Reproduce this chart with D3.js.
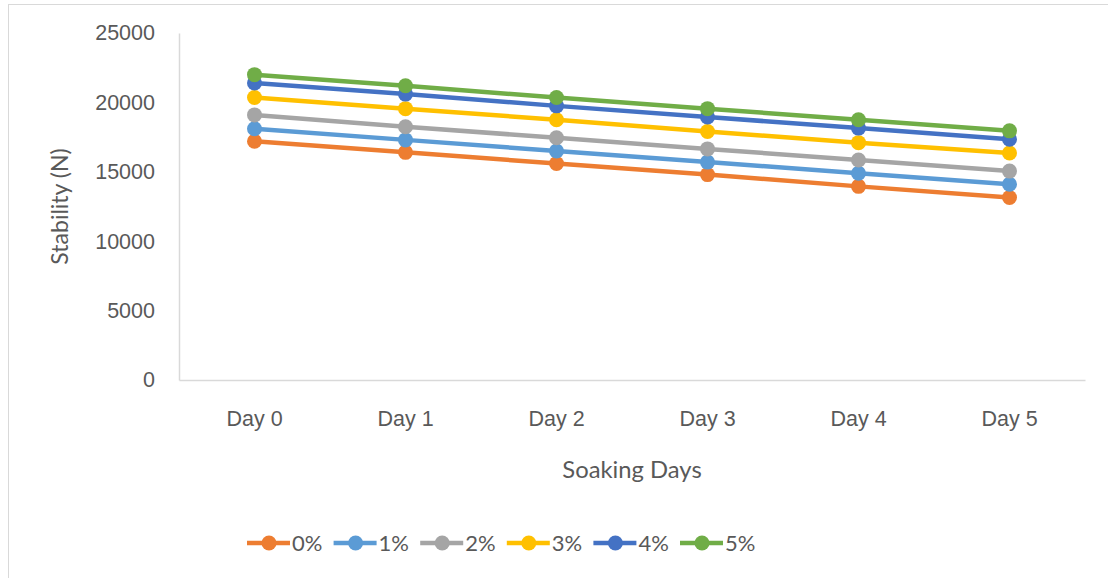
<!DOCTYPE html>
<html>
<head>
<meta charset="utf-8">
<script src="https://cdn.jsdelivr.net/npm/d3@7"></script>
<style>
  html, body { margin: 0; padding: 0; background: #fff; }
  svg { display: block; font-family: Lato, "Open Sans", sans-serif; }
</style>
</head>
<body>
<svg id="chart" width="1108" height="578"></svg>
<script>
// Soaking days on the x axis
const days = ["Day 0", "Day 1", "Day 2", "Day 3", "Day 4", "Day 5"];

// Stability (N) for each additive percentage
const pct0 = [17200, 16400, 15600, 14800, 13950, 13150];
const pct1 = [18100, 17300, 16500, 15700, 14900, 14100];
const pct2 = [19100, 18250, 17450, 16650, 15850, 15050];
const pct3 = [20350, 19550, 18750, 17900, 17100, 16350];
const pct4 = [21400, 20600, 19750, 18950, 18150, 17350];
const pct5 = [22000, 21200, 20350, 19550, 18750, 17950];

const seriesNames = ["0%", "1%", "2%", "3%", "4%", "5%"];
const seriesColors = ["#ED7D31", "#5B9BD5", "#A5A5A5", "#FFC000", "#4472C4", "#70AD47"];
const yTicks = [0, 5000, 10000, 15000, 20000, 25000];

const series = [pct0, pct1, pct2, pct3, pct4, pct5].map((vals, i) => ({
  name: seriesNames[i],
  color: seriesColors[i],
  values: vals.map((v, j) => ({ day: days[j], value: v }))
}));

const svg = d3.select("#chart");
const textColor = "#595959";
const axisColor = "#D9D9D9";

// chart frame
svg.append("rect")
  .attr("x", 8.5).attr("y", 4.5)
  .attr("width", 1120).attr("height", 600)
  .attr("fill", "#fff").attr("stroke", "#D9D9D9").attr("stroke-width", 1);

const plot = { left: 179, right: 1085, top: 33, bottom: 380 };

const x = d3.scaleBand().domain(days).range([plot.left, plot.right]);
const y = d3.scaleLinear().domain([0, 25000]).range([plot.bottom, plot.top]);

// y axis
const yAxis = svg.append("g")
  .attr("transform", `translate(${plot.left},0)`)
  .call(d3.axisLeft(y).tickValues(yTicks).tickSize(0).tickPadding(24).tickFormat(d3.format("d")));
yAxis.select(".domain").attr("stroke", axisColor).attr("stroke-width", 1.5);
yAxis.selectAll("text").attr("fill", textColor).attr("font-size", 21.5);

// x axis
const xAxis = svg.append("g")
  .attr("transform", `translate(0,${plot.bottom})`)
  .call(d3.axisBottom(x).tickSize(0).tickPadding(31));
xAxis.select(".domain").attr("stroke", axisColor).attr("stroke-width", 1.5);
xAxis.selectAll("text").attr("fill", textColor).attr("font-size", 21.5);

// axis titles
svg.append("text")
  .attr("x", (plot.left + plot.right) / 2).attr("y", 478)
  .attr("text-anchor", "middle").attr("fill", textColor).attr("font-size", 23.8)
  .text("Soaking Days");

svg.append("text")
  .attr("transform", `translate(68,${(plot.top + plot.bottom) / 2}) rotate(-90)`)
  .attr("text-anchor", "middle").attr("fill", textColor).attr("font-size", 23)
  .text("Stability (N)");

// lines and markers
const line = d3.line()
  .x(d => x(d.day) + x.bandwidth() / 2)
  .y(d => y(d.value));

series.forEach(s => {
  const g = svg.append("g");
  g.append("path")
    .datum(s.values)
    .attr("d", line)
    .attr("fill", "none")
    .attr("stroke", s.color)
    .attr("stroke-width", 4.5)
    .attr("stroke-linejoin", "round");
  g.selectAll("circle")
    .data(s.values)
    .join("circle")
    .attr("cx", d => x(d.day) + x.bandwidth() / 2)
    .attr("cy", d => y(d.value))
    .attr("r", 7.5)
    .attr("fill", s.color);
});

// legend
const legend = svg.append("g").attr("transform", "translate(247,543)");
series.forEach((s, i) => {
  const item = legend.append("g").attr("transform", `translate(${i * 86.6},0)`);
  item.append("line")
    .attr("x1", 0).attr("x2", 43).attr("y1", 0).attr("y2", 0)
    .attr("stroke", s.color).attr("stroke-width", 4.5);
  item.append("circle").attr("cx", 22).attr("cy", 0).attr("r", 7.5).attr("fill", s.color);
  item.append("text")
    .attr("x", 45).attr("y", 0).attr("dy", "0.36em")
    .attr("fill", textColor).attr("font-size", 22)
    .text(s.name);
});
</script>
</body>
</html>
